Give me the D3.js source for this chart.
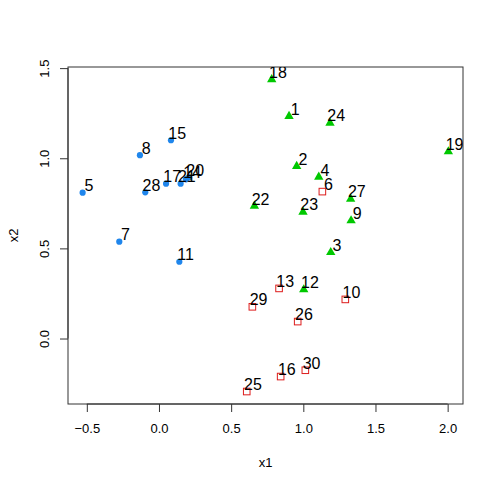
<!DOCTYPE html>
<html><head><meta charset="utf-8">
<script src="https://cdn.jsdelivr.net/npm/d3@7"></script>
<style>body{margin:0;background:#fff}svg{display:block}text{font-family:"Liberation Sans",Arial,sans-serif}</style>
</head><body>
<script>
const ids = d3.range(1, 31).map(String);
const x1 = [0.901,0.954,1.190,1.107,-0.529,1.132,-0.275,-0.132,1.331,1.291,0.141,1.003,0.832,0.187,0.083,0.843,0.049,0.781,2.005,0.208,0.150,0.661,0.998,1.185,0.608,0.961,1.328,-0.095,0.647,1.014];
const x2 = [1.233,0.956,0.478,0.896,0.809,0.815,0.537,1.017,0.654,0.217,0.426,0.271,0.278,0.883,1.100,-0.211,0.859,1.437,1.037,0.894,0.859,0.735,0.702,1.196,-0.294,0.094,0.774,0.811,0.176,-0.176];
const group = ["G","G","G","G","B","R","B","B","G","R","B","G","R","B","B","R","B","G","G","B","B","G","G","G","R","R","G","B","R","R"];
const xTicks = [-0.5, 0.0, 0.5, 1.0, 1.5, 2.0];
const yTicks = [0.0, 0.5, 1.0, 1.5];
const colors = {B: "#1f86ec", G: "#00c800", R: "#dd1c1c"};

const W = 498, H = 488;
const mL = 68, mR = 463, mT = 67, mB = 404;
const svg = d3.select("body").append("svg").attr("width", W).attr("height", H);

function padExt(a) { const e = d3.extent(a), p = (e[1] - e[0]) * 0.04; return [e[0] - p, e[1] + p]; }
const xs = d3.scaleLinear().domain(padExt(x1)).range([mL, mR]);
const ys = d3.scaleLinear().domain(padExt(x2)).range([mB, mT]);
const fmt = d3.format(".1f");
const FS = 13, LFS = 16;

svg.append("defs").append("clipPath").attr("id", "plotclip").append("rect")
  .attr("x", mL).attr("y", mT).attr("width", mR - mL).attr("height", mB - mT);

svg.append("rect").attr("x", mL).attr("y", mT).attr("width", mR - mL).attr("height", mB - mT)
  .attr("fill", "none").attr("stroke", "#333").attr("stroke-width", 1);

const xa = svg.append("g").attr("transform", `translate(0,${mB})`)
  .call(d3.axisBottom(xs).tickValues(xTicks).tickFormat(d => fmt(d).replace("-", "\u2212")).tickSize(8).tickPadding(12));
xa.select(".domain").attr("d", `M${xs(xTicks[0])},0H${xs(xTicks[xTicks.length-1])}`).attr("stroke", "#333");
xa.selectAll("line").attr("stroke", "#333");
xa.selectAll("text").attr("font-size", FS).attr("font-family", "Liberation Sans, Arial, sans-serif").attr("fill", "#000");

const ya = svg.append("g").attr("transform", `translate(${mL},0)`)
  .call(d3.axisLeft(ys).tickValues(yTicks).tickFormat(fmt).tickSize(8).tickPadding(8));
ya.select(".domain").attr("d", `M0,${ys(yTicks[0])}V${ys(yTicks[yTicks.length-1])}`).attr("stroke", "#333");
ya.selectAll("line").attr("stroke", "#333");
ya.selectAll("text").attr("font-size", FS).attr("font-family", "Liberation Sans, Arial, sans-serif").attr("fill", "#000")
  .attr("text-anchor", "middle").attr("dy", null).attr("x", null).attr("y", 0)
  .attr("transform", `translate(-19.5,0) rotate(-90)`);

svg.append("text").attr("x", (mL + mR) / 2).attr("y", 467).attr("text-anchor", "middle").attr("font-size", FS).text("x1");
svg.append("text").attr("transform", `translate(18,${(mT + mB) / 2}) rotate(-90)`).attr("text-anchor", "middle")
  .attr("font-size", FS).text("x2");

const data = ids.map((id, i) => ({id, x: x1[i], y: x2[i], g: group[i]}));
const pts = svg.append("g");
data.forEach(d => {
  const cx = xs(d.x), cy = ys(d.y), c = colors[d.g];
  if (d.g === "B") pts.append("circle").attr("cx", cx).attr("cy", cy).attr("r", 3.1).attr("fill", c);
  else if (d.g === "G") pts.append("path").attr("d", d3.symbol(d3.symbolTriangle, 38)()).attr("transform", `translate(${cx},${cy})`).attr("fill", c);
  else pts.append("rect").attr("x", cx - 3.3).attr("y", cy - 3.3).attr("width", 6.6).attr("height", 6.6).attr("fill", "none").attr("stroke", c).attr("stroke-width", 1);
});
svg.append("g").attr("clip-path", "url(#plotclip)").selectAll("text").data(data).join("text")
  .attr("x", d => xs(d.x) + 6.2).attr("y", d => ys(d.y) - 1.5).attr("text-anchor", "middle")
  .attr("font-size", LFS).attr("fill", "#000").text(d => d.id);
</script>
</body></html>
